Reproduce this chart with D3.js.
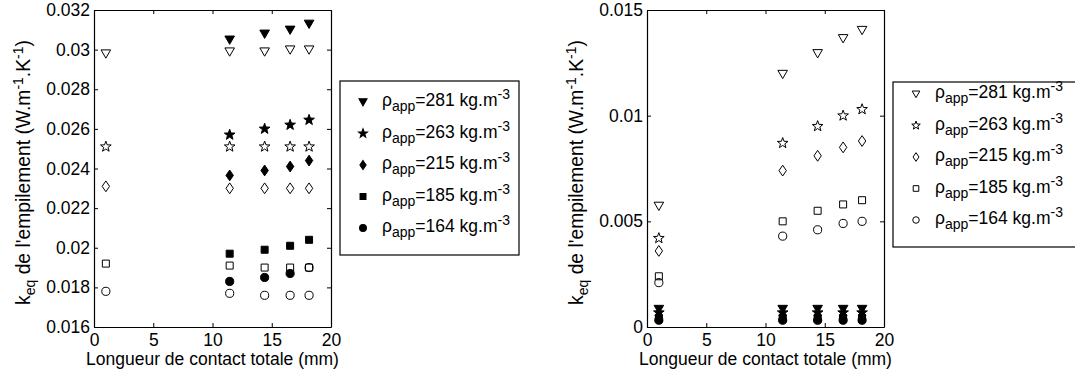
<!DOCTYPE html>
<html><head><meta charset="utf-8">
<script src="https://cdn.jsdelivr.net/npm/d3@7"></script>
<style>
body{margin:0;background:#fff;}
text{font-family:"Liberation Sans",Arial,Helvetica,sans-serif;fill:#000;}
</style></head>
<body><svg id="c" width="1075" height="374"></svg>
<script>
// ---- data ----
const xVals = [1.0, 11.45, 14.4, 16.55, 18.15];
const labels = ["281", "263", "215", "185", "164"];
const shapes = ["tri", "star", "diamond", "square", "circle"];
const xTicks = [0, 5, 10, 15, 20];
const leftYTicks = [0.016, 0.018, 0.02, 0.022, 0.024, 0.026, 0.028, 0.03, 0.032];
const rightYTicks = [0, 0.005, 0.01, 0.015];

// left panel
const leftFilled281 = [null, 0.0305, 0.0308, 0.0310, 0.0313];
const leftFilled263 = [null, 0.0257, 0.0260, 0.0262, 0.02645];
const leftFilled215 = [null, 0.02365, 0.0239, 0.0241, 0.0244];
const leftFilled185 = [null, 0.0197, 0.0199, 0.0201, 0.0204];
const leftFilled164 = [null, 0.0183, 0.0185, 0.0187, null];
const leftOpen281 = [0.0298, 0.0299, 0.0299, 0.0300, 0.0300];
const leftOpen263 = [0.0251, 0.0251, 0.0251, 0.0251, 0.0251];
const leftOpen215 = [0.0231, 0.0230, 0.0230, 0.0230, 0.0230];
const leftOpen185 = [0.0192, 0.0191, 0.0190, 0.0190, 0.0190];
const leftOpen164 = [0.0178, 0.0177, 0.0176, 0.0176, 0.0176];
const leftOpen164Extra = [null, null, null, null, 0.0190];

// right panel
const rightOpen281 = [0.00573, 0.01197, 0.01295, 0.01366, 0.01405];
const rightOpen263 = [0.0042, 0.0087, 0.0095, 0.0100, 0.0103];
const rightOpen215 = [0.0036, 0.0074, 0.0081, 0.0085, 0.0088];
const rightOpen185 = [0.0024, 0.0050, 0.0055, 0.0058, 0.0060];
const rightOpen164 = [0.0021, 0.0043, 0.0046, 0.0049, 0.0050];
const rightFilled281 = [0.00085, 0.00085, 0.00085, 0.00085, 0.00085];
const rightFilled263 = [0.00068, 0.00068, 0.00068, 0.00068, 0.00068];
const rightFilled215 = [0.00055, 0.00055, 0.00055, 0.00055, 0.00055];
const rightFilled185 = [0.00043, 0.00043, 0.00043, 0.00043, 0.00043];
const rightFilled164 = [0.00032, 0.00032, 0.00032, 0.00032, 0.00032];

// ---- drawing ----
const svg = d3.select("#c");
const FS = 17.5, SUB = 14, YFS = 19.3;

function markerPath(shape) {
  if (shape === "tri") return "M-4.8,-3.7L4.8,-3.7L0,4.6Z";
  if (shape === "diamond") return "M0,-5.4L3.7,0L0,5.4L-3.7,0Z";
  if (shape === "square") return "M-3.5,-3.5H3.5V3.5H-3.5Z";
  if (shape === "circle") return d3.symbol(d3.symbolCircle, 52)();
  if (shape === "star") {
    let p = [];
    for (let i = 0; i < 10; i++) {
      const r = i % 2 === 0 ? 5.6 : 2.3;
      const a = -Math.PI / 2 + i * Math.PI / 5;
      p.push((r * Math.cos(a)).toFixed(2) + "," + (r * Math.sin(a)).toFixed(2));
    }
    return "M" + p.join("L") + "Z";
  }
}

function drawPanel(opt) {
  const g = svg.append("g");
  const x = d3.scaleLinear().domain([0, 20]).range([opt.x0, opt.x1]);
  const y = d3.scaleLinear().domain(opt.yDomain).range([opt.y1, opt.y0]);

  const ax = (gen, tr) => {
    const a = g.append("g").attr("transform", tr).call(gen);
    a.selectAll("path.domain").attr("stroke", "#000").attr("stroke-width", 1.2);
    a.selectAll(".tick line").attr("stroke", "#000");
    a.selectAll("text").style("font-size", FS + "px").attr("fill", "#000")
      .style("font-family", '"Liberation Sans",Arial,sans-serif');
    return a;
  };
  ax(d3.axisBottom(x).tickValues(xTicks).tickSize(-4).tickSizeOuter(0).tickPadding(7).tickFormat(d3.format("d")), `translate(0,${opt.y1})`);
  ax(d3.axisTop(x).tickValues(xTicks).tickSize(-4).tickSizeOuter(0).tickFormat(""), `translate(0,${opt.y0})`);
  ax(d3.axisLeft(y).tickValues(opt.yTicks).tickSize(-4).tickSizeOuter(0).tickPadding(4).tickFormat(opt.fmt), `translate(${opt.x0},0)`);
  ax(d3.axisRight(y).tickValues(opt.yTicks).tickSize(-4).tickSizeOuter(0).tickFormat(""), `translate(${opt.x1},0)`);

  opt.series.forEach(s => {
    const pts = xVals.map((xv, i) => [xv, s.vals[i]]).filter(d => d[1] != null);
    g.append("g").selectAll("path").data(pts).join("path")
      .attr("d", markerPath(s.shape))
      .attr("transform", d => `translate(${x(d[0])},${y(d[1])})`)
      .attr("fill", s.filled ? "#000" : "none")
      .attr("stroke", "#000").attr("stroke-width", 1);
  });

  g.append("text").attr("x", (opt.x0 + opt.x1) / 2).attr("y", opt.y1 + 38)
    .attr("text-anchor", "middle").style("font-size", FS + "px")
    .text("Longueur de contact totale (mm)");

  const yl = g.append("text")
    .attr("transform", `translate(${opt.ylx},${(opt.y0 + opt.y1) / 2 + 4}) rotate(-90)`)
    .attr("text-anchor", "middle").style("font-size", YFS + "px");
  yl.append("tspan").text("k");
  yl.append("tspan").attr("dy", 5).style("font-size", SUB + "px").text("eq");
  yl.append("tspan").attr("dy", -5).text(" de l'empilement (W.m");
  yl.append("tspan").attr("dy", -7).style("font-size", SUB + "px").text("-1");
  yl.append("tspan").attr("dy", 7).text(".K");
  yl.append("tspan").attr("dy", -7).style("font-size", SUB + "px").text("-1");
  yl.append("tspan").attr("dy", 7).text(")");

  const L = opt.legend;
  g.append("rect").attr("x", L.x).attr("y", L.y).attr("width", L.w).attr("height", L.h)
    .attr("fill", "#fff").attr("stroke", "#000").attr("stroke-width", 1.2);
  labels.forEach((lab, i) => {
    const cy = L.y + L.first + i * L.step;
    g.append("path").attr("d", markerPath(shapes[i]))
      .attr("transform", `translate(${L.x + 23},${cy}) scale(${L.ms})`)
      .attr("fill", L.filled ? "#000" : "none").attr("stroke", "#000").attr("stroke-width", 1 / L.ms);
    const t = g.append("text").attr("x", L.x + 42).attr("y", cy + 4).style("font-size", FS + "px");
    t.append("tspan").text("ρ");
    t.append("tspan").attr("dy", 5).style("font-size", SUB + "px").text("app");
    t.append("tspan").attr("dy", -5).text("=" + lab + " kg.m");
    t.append("tspan").attr("dy", -7).style("font-size", SUB + "px").text("-3");
  });
}

drawPanel({
  x0: 94, x1: 331, y0: 10, y1: 327,
  yDomain: [0.016, 0.032], yTicks: leftYTicks,
  fmt: d => d3.format("")(+d.toFixed(3)),
  ylx: 30,
  series: [
    {vals: leftFilled281, shape: "tri", filled: true},
    {vals: leftFilled263, shape: "star", filled: true},
    {vals: leftFilled215, shape: "diamond", filled: true},
    {vals: leftFilled185, shape: "square", filled: true},
    {vals: leftFilled164, shape: "circle", filled: true},
    {vals: leftOpen281, shape: "tri", filled: false},
    {vals: leftOpen263, shape: "star", filled: false},
    {vals: leftOpen215, shape: "diamond", filled: false},
    {vals: leftOpen185, shape: "square", filled: false},
    {vals: leftOpen164, shape: "circle", filled: false},
    {vals: leftOpen164Extra, shape: "circle", filled: false}
  ],
  legend: {x: 340, y: 81, w: 179, h: 174, first: 21, step: 31.5, filled: true, ms: 0.85}
});

drawPanel({
  x0: 647, x1: 884, y0: 10, y1: 327,
  yDomain: [0, 0.015], yTicks: rightYTicks,
  fmt: d => d3.format("")(+d.toFixed(3)),
  ylx: 583,
  series: [
    {vals: rightFilled281, shape: "tri", filled: true},
    {vals: rightFilled263, shape: "star", filled: true},
    {vals: rightFilled215, shape: "diamond", filled: true},
    {vals: rightFilled185, shape: "square", filled: true},
    {vals: rightFilled164, shape: "circle", filled: true},
    {vals: rightOpen281, shape: "tri", filled: false},
    {vals: rightOpen263, shape: "star", filled: false},
    {vals: rightOpen215, shape: "diamond", filled: false},
    {vals: rightOpen185, shape: "square", filled: false},
    {vals: rightOpen164, shape: "circle", filled: false}
  ],
  legend: {x: 893, y: 82, w: 200, h: 165, first: 12, step: 31.5, filled: false, ms: 0.8}
});
</script></body></html>
